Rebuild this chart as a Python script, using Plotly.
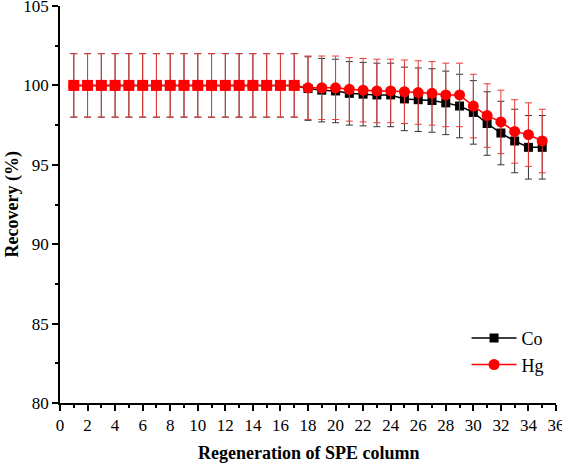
import plotly.graph_objects as go

cycles = list(range(1, 36))
co_recovery = [100]*17 + [99.8, 99.7, 99.65, 99.5, 99.45, 99.4, 99.4, 99.15, 99.1, 99.05,
                          98.9, 98.7, 98.3, 97.6, 97.0, 96.5, 96.1, 96.1]
hg_recovery = [100]*17 + [99.85, 99.85, 99.85, 99.75, 99.7, 99.65, 99.65, 99.6, 99.55, 99.5,
                          99.4, 99.4, 98.7, 98.1, 97.7, 97.1, 96.9, 96.5]
co_err = [2.0]*35
hg_err = [2.0]*35
x_ticks = list(range(0, 37, 2))
y_ticks = [80, 85, 90, 95, 100, 105]
n_flat = 17  # first regeneration cycles where both series overlap at 100 %

FONT = "Liberation Serif, Times New Roman, serif"

fig = go.Figure()
fig.add_trace(go.Scatter(
    x=cycles, y=co_recovery, name="Co", mode="lines+markers",
    line=dict(color="black", width=1.5),
    marker=dict(symbol="square", size=9, color="black"),
    error_y=dict(type="data", array=co_err, visible=True, color="#333333", thickness=1, width=3.5),
))
fig.add_trace(go.Scatter(
    x=cycles, y=hg_recovery, name="Hg", mode="lines+markers",
    line=dict(color="red", width=1.5),
    marker=dict(symbol="circle", size=11, color="red"),
    error_y=dict(type="data", array=hg_err, visible=True, color="#e83a3a", thickness=1, width=3.5),
))
# overlapping points drawn as red squares
fig.add_trace(go.Scatter(
    x=cycles[:n_flat], y=hg_recovery[:n_flat], mode="markers", showlegend=False,
    marker=dict(symbol="square", size=11, color="red"), hoverinfo="skip",
))

fig.update_layout(
    width=562, height=467,
    margin=dict(l=60, r=6, t=6, b=64),
    paper_bgcolor="white", plot_bgcolor="white",
    font=dict(family=FONT, size=17, color="black"),
    showlegend=True,
    legend=dict(x=0.985, y=0.13, xanchor="right", yanchor="middle",
                font=dict(family=FONT, size=18), bgcolor="rgba(0,0,0,0)",
                itemwidth=45, tracegroupgap=0),
    annotations=[
        dict(text="<b>Regeneration of SPE column</b>", xref="paper", yref="paper",
             x=0.5, y=0, yshift=-50, xanchor="center", yanchor="middle",
             showarrow=False, font=dict(family=FONT, size=18)),
        dict(text="<b>Recovery (%)</b>", xref="paper", yref="paper",
             x=0, xshift=-48, y=0.5, xanchor="center", yanchor="middle", textangle=-90,
             showarrow=False, font=dict(family=FONT, size=18)),
    ],
)
fig.update_xaxes(
    range=[0, 36], tickvals=x_ticks, showgrid=False, zeroline=False, automargin=False,
    showline=True, linecolor="black", linewidth=1.5, ticklabeloverflow="allow",
    ticks="outside", ticklen=6, tickwidth=1.5, tickcolor="black",
    minor=dict(dtick=1, ticks="outside", ticklen=3, tickwidth=1.5, tickcolor="black"),
    tickfont=dict(family=FONT, size=17),
)
fig.update_yaxes(
    range=[80, 105], tickvals=y_ticks, showgrid=False, zeroline=False, automargin=False,
    showline=True, linecolor="black", linewidth=1.5, ticklabeloverflow="allow",
    ticks="outside", ticklen=6, tickwidth=1.5, tickcolor="black",
    minor=dict(dtick=2.5, ticks="outside", ticklen=3, tickwidth=1.5, tickcolor="black"),
    tickfont=dict(family=FONT, size=17),
)

fig.write_html("out.html", config={"displayModeBar": False},
               post_script="document.body.style.margin='0';")
